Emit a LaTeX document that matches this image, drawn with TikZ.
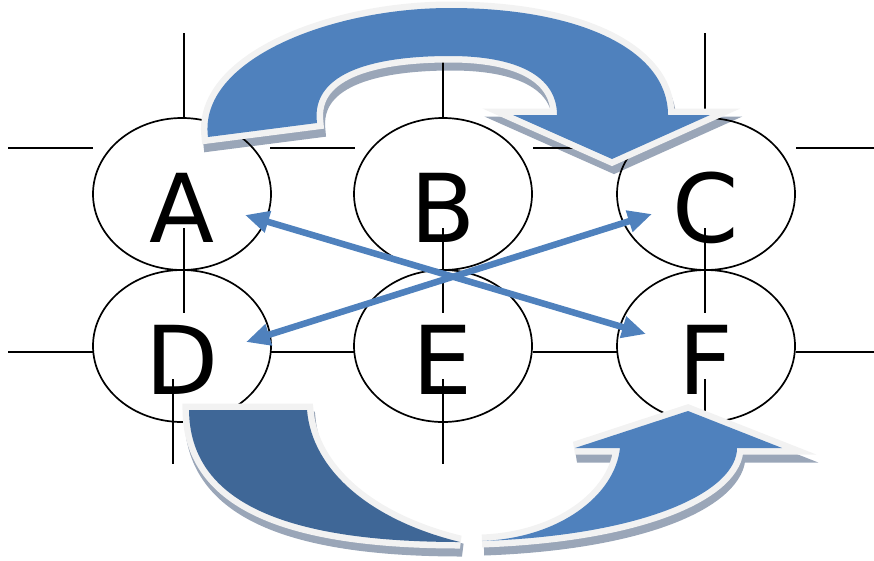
\documentclass[tikz,border=0pt]{standalone}
\usepackage{fontspec}
\setmainfont{DejaVu Sans}
\usetikzlibrary{arrows.meta,shapes.geometric}
\definecolor{ablue}{HTML}{4F81BD}
\definecolor{dblue}{HTML}{3F6797}
\definecolor{rim}{HTML}{F2F2F2}
\definecolor{shade}{HTML}{9AA6B8}
\tikzset{
  oval/.style={draw, shape=ellipse, line width=1.7pt, minimum width=178pt, minimum height=152pt, inner sep=0pt},
  letter/.style={font=\fontsize{95pt}{95pt}\selectfont, anchor=base, inner sep=0pt},
  tick/.style={line width=1.8pt},
  linkarrow/.style={draw=ablue, line width=6.5pt, {Triangle[length=24pt,width=21pt]}-{Triangle[length=24pt,width=21pt]}},
  rimmed/.style={preaction={draw=rim, line width=13pt, line join=miter, miter limit=6}},
  shadowed/.style={fill=shade, draw=shade, line width=13pt, line join=miter, miter limit=6},
}
\newcommand\TopArrow[1]{\path[#1] (208,137) .. controls (198,60) and (330,8) .. (450,8)
   .. controls (580,8) and (668,50) .. (668,115) -- (710,115) -- (612,159) -- (513,115) -- (557,115)
   .. controls (557,75) and (515,56) .. (450,56) .. controls (380,56) and (310,70) .. (317,123) -- cycle;}
\newcommand\BackArrow[1]{\path[#1] (189,410) -- (307,410) .. controls (312,470) and (370,520) .. (460,542)
   .. controls (280,542) and (190,500) .. (189,410) -- cycle;}
\newcommand\FrontArrow[1]{\path[#1] (482,541) .. controls (560,538) and (615,495) .. (620,448) -- (575,448)
   -- (688,411) -- (782,448) -- (737,448) .. controls (737,490) and (650,535) .. (482,541) -- cycle;}
\begin{document}
\begin{tikzpicture}[x=1pt,y=-1pt]
\useasboundingbox (0,0) rectangle (874,560);
% shadows
\begin{scope}[shift={(2,8)}]
  \TopArrow{shadowed}
  \BackArrow{shadowed}
  \FrontArrow{shadowed}
\end{scope}
% ellipses
\node[oval] (eA) at (182,194) {};
\node[oval] (eB) at (443,194) {};
\node[oval] (eC) at (706,194) {};
\node[oval] (eD) at (182,346) {};
\node[oval] (eE) at (443,346) {};
\node[oval] (eF) at (706,346) {};
% letters
\node[letter] (tA) at (182,242) {A};
\node[letter] (tB) at (443,242) {B};
\node[letter] (tC) at (706,242) {C};
\node[letter] (tD) at (182,394) {D};
\node[letter] (tE) at (443,394) {E};
\node[letter] (tF) at (706,394) {F};
% tick lines
\foreach \y in {148,352} {
  \draw[tick] (8,\y) -- (93,\y);
  \draw[tick] (270,\y) -- (355,\y);
  \draw[tick] (533,\y) -- (618,\y);
  \draw[tick] (796,\y) -- (874,\y);
}
\foreach \x in {184,443,705} {
  \draw[tick] (\x,33) -- (\x,118);
  \draw[tick] (\x,228) -- (\x,313);
}
\draw[tick] (173,379) -- (173,464);
\draw[tick] (443,379) -- (443,464);
\draw[tick] (705,379) -- (705,464);
% big curved arrows
\TopArrow{fill=ablue, rimmed}
\BackArrow{fill=dblue, rimmed}
\FrontArrow{fill=ablue, rimmed}
% straight double arrows
\coordinate (pA) at (245,215);
\coordinate (pF) at (646,334);
\coordinate (pD) at (246,342);
\coordinate (pC) at (652,214);
\draw[linkarrow] (pA) -- (pF);
\draw[linkarrow] (pD) -- (pC);
\end{tikzpicture}
\end{document}
